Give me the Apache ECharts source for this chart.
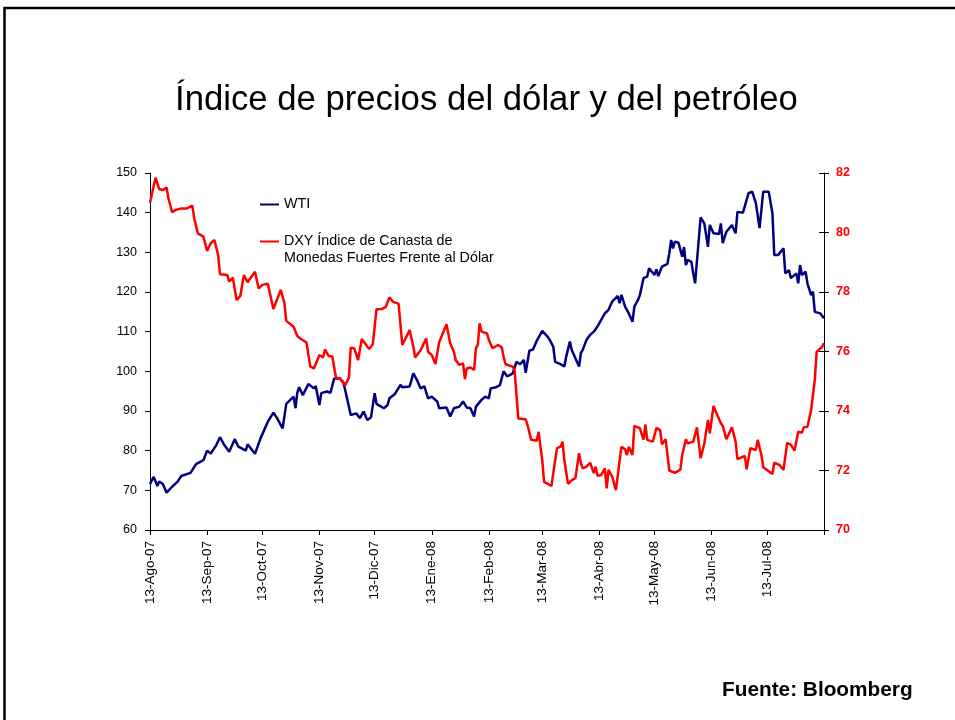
<!DOCTYPE html>
<html>
<head>
<meta charset="utf-8">
<title>Índice de precios del dólar y del petróleo</title>
<style>
  html, body { margin: 0; padding: 0; background: #fff; }
  #chart { width: 955px; height: 720px; }
</style>
</head>
<body>
<div id="chart"></div>
<script src="https://cdn.jsdelivr.net/npm/echarts@6.0.0/dist/echarts.min.js"></script>
<script>
// fechas de las marcas del eje X (día 13 de cada mes)
var tickDates = ['2007-08-13', '2007-09-13', '2007-10-13', '2007-11-13', '2007-12-13', '2008-01-13',
                 '2008-02-13', '2008-03-13', '2008-04-13', '2008-05-13', '2008-06-13', '2008-07-13'];
var tickLabels = ['13-Ago-07', '13-Sep-07', '13-Oct-07', '13-Nov-07', '13-Dic-07', '13-Ene-08',
                  '13-Feb-08', '13-Mar-08', '13-Abr-08', '13-May-08', '13-Jun-08', '13-Jul-08'];
var axisStart = '2007-08-13';
var axisEnd = '2008-08-13';

// WTI (US$ por barril), eje izquierdo
var wtiData = [
  ['2007-08-13',71.6],['2007-08-15',73.4],['2007-08-17',71.1],['2007-08-18',72.2],['2007-08-20',71.6],
  ['2007-08-22',69.4],['2007-08-25',70.9],['2007-08-28',72.2],['2007-08-30',73.6],['2007-09-04',74.4],
  ['2007-09-07',76.6],['2007-09-11',77.6],['2007-09-13',80.0],['2007-09-15',79.3],['2007-09-18',81.4],
  ['2007-09-20',83.4],['2007-09-22',81.7],['2007-09-25',79.7],['2007-09-28',82.9],['2007-09-30',81.0],
  ['2007-10-04',80.0],['2007-10-05',81.6],['2007-10-09',79.2],['2007-10-12',83.1],['2007-10-16',87.3],
  ['2007-10-19',89.6],['2007-10-21',88.2],['2007-10-24',85.6],['2007-10-26',91.8],['2007-10-30',93.6],
  ['2007-10-31',90.7],['2007-11-01',94.6],['2007-11-02',96.0],['2007-11-04',94.0],['2007-11-07',96.8],
  ['2007-11-10',95.7],['2007-11-11',96.3],['2007-11-13',91.5],['2007-11-14',94.5],['2007-11-17',94.9],
  ['2007-11-19',94.6],['2007-11-21',98.2],['2007-11-24',98.2],['2007-11-26',97.2],['2007-11-27',95.3],
  ['2007-11-29',91.1],['2007-11-30',89.0],['2007-12-03',89.4],['2007-12-05',88.2],['2007-12-07',89.9],
  ['2007-12-09',87.7],['2007-12-11',88.4],['2007-12-13',94.5],['2007-12-14',91.8],['2007-12-18',90.7],
  ['2007-12-20',91.5],['2007-12-21',93.2],['2007-12-24',94.3],['2007-12-27',96.6],['2007-12-28',96.0],
  ['2008-01-01',96.2],['2008-01-03',99.5],['2008-01-05',97.8],['2008-01-07',95.7],['2008-01-09',96.2],
  ['2008-01-11',93.2],['2008-01-13',93.6],['2008-01-16',92.4],['2008-01-17',90.7],['2008-01-21',90.9],
  ['2008-01-23',88.6],['2008-01-25',90.7],['2008-01-28',91.1],['2008-01-30',92.4],['2008-02-01',90.9],
  ['2008-02-03',90.7],['2008-02-05',88.6],['2008-02-06',91.1],['2008-02-09',92.8],['2008-02-11',93.6],
  ['2008-02-13',93.2],['2008-02-14',95.7],['2008-02-17',96.0],['2008-02-19',96.5],['2008-02-21',100.0],
  ['2008-02-23',98.7],['2008-02-26',99.5],['2008-02-28',102.4],['2008-03-01',101.8],['2008-03-03',102.9],
  ['2008-03-04',99.6],['2008-03-06',105.2],['2008-03-08',105.5],['2008-03-10',107.7],['2008-03-13',110.2],
  ['2008-03-14',110.3],['2008-03-16',108.7],['2008-03-17',108.0],['2008-03-19',106.2],['2008-03-20',102.4],
  ['2008-03-23',101.8],['2008-03-25',101.2],['2008-03-26',103.7],['2008-03-28',107.5],['2008-03-29',105.4],
  ['2008-04-02',101.2],['2008-04-03',104.7],['2008-04-04',105.4],['2008-04-06',107.9],['2008-04-08',109.2],
  ['2008-04-10',110.0],['2008-04-12',111.3],['2008-04-13',111.7],['2008-04-16',114.6],['2008-04-18',115.5],
  ['2008-04-20',117.6],['2008-04-21',118.0],['2008-04-23',119.0],['2008-04-24',117.2],['2008-04-25',119.3],
  ['2008-04-27',116.3],['2008-04-29',114.6],['2008-05-01',112.5],['2008-05-02',116.3],['2008-05-04',118.0],
  ['2008-05-05',119.2],['2008-05-07',123.5],['2008-05-09',123.9],['2008-05-10',126.0],['2008-05-11',125.4],
  ['2008-05-13',124.3],['2008-05-14',125.7],['2008-05-15',124.0],['2008-05-17',126.4],['2008-05-20',127.1],
  ['2008-05-21',129.8],['2008-05-22',133.1],['2008-05-23',131.0],['2008-05-24',132.7],['2008-05-26',132.4],
  ['2008-05-28',128.9],['2008-05-29',131.3],['2008-05-30',126.8],['2008-05-31',128.1],['2008-06-02',127.6],
  ['2008-06-03',124.7],['2008-06-04',122.2],['2008-06-07',138.8],['2008-06-09',137.3],['2008-06-11',131.4],
  ['2008-06-12',136.9],['2008-06-14',134.8],['2008-06-17',134.6],['2008-06-18',137.3],['2008-06-19',132.3],
  ['2008-06-21',135.2],['2008-06-24',136.9],['2008-06-26',134.8],['2008-06-27',140.2],['2008-06-30',140.0],
  ['2008-07-03',144.9],['2008-07-05',145.3],['2008-07-07',142.4],['2008-07-09',136.1],['2008-07-10',140.7],
  ['2008-07-11',145.3],['2008-07-14',145.3],['2008-07-16',139.8],['2008-07-17',129.3],['2008-07-19',129.3],
  ['2008-07-22',131.0],['2008-07-23',124.7],['2008-07-25',125.5],['2008-07-26',123.5],['2008-07-29',124.7],
  ['2008-07-30',122.2],['2008-07-31',126.8],['2008-08-01',124.3],['2008-08-03',125.1],['2008-08-04',122.2],
  ['2008-08-06',119.2],['2008-08-07',120.1],['2008-08-08',115.0],['2008-08-11',114.6],['2008-08-13',113.4]
];

// DXY, eje derecho
var dxyData = [
  ['2007-08-13',81.0],['2007-08-16',81.84],['2007-08-18',81.46],['2007-08-20',81.43],['2007-08-22',81.51],
  ['2007-08-23',81.15],['2007-08-25',80.68],['2007-08-27',80.76],['2007-08-30',80.81],['2007-09-02',80.81],
  ['2007-09-05',80.90],['2007-09-06',80.48],['2007-09-08',79.97],['2007-09-11',79.86],['2007-09-13',79.38],
  ['2007-09-15',79.64],['2007-09-17',79.75],['2007-09-19',79.24],['2007-09-20',78.60],['2007-09-24',78.57],
  ['2007-09-25',78.35],['2007-09-27',78.48],['2007-09-29',77.73],['2007-10-01',77.86],['2007-10-03',78.57],
  ['2007-10-05',78.33],['2007-10-09',78.68],['2007-10-11',78.12],['2007-10-13',78.24],['2007-10-16',78.28],
  ['2007-10-19',77.43],['2007-10-23',78.07],['2007-10-25',77.62],['2007-10-26',77.03],['2007-10-30',76.83],
  ['2007-11-01',76.52],['2007-11-03',76.42],['2007-11-06',76.30],['2007-11-08',75.50],['2007-11-10',75.43],
  ['2007-11-13',75.88],['2007-11-15',75.80],['2007-11-16',76.07],['2007-11-18',75.85],['2007-11-20',75.83],
  ['2007-11-22',75.12],['2007-11-24',75.10],['2007-11-27',74.87],['2007-11-29',75.12],['2007-11-30',76.13],
  ['2007-12-02',76.10],['2007-12-04',75.71],['2007-12-06',76.42],['2007-12-08',76.25],['2007-12-10',76.08],
  ['2007-12-12',76.25],['2007-12-14',77.42],['2007-12-17',77.43],['2007-12-19',77.49],['2007-12-21',77.82],
  ['2007-12-23',77.67],['2007-12-26',77.60],['2007-12-28',76.22],['2008-01-01',76.72],['2008-01-03',76.16],
  ['2008-01-04',75.80],['2008-01-07',76.05],['2008-01-08',76.18],['2008-01-10',76.44],['2008-01-11',75.99],
  ['2008-01-13',75.88],['2008-01-15',75.58],['2008-01-17',76.30],['2008-01-18',76.33],['2008-01-21',76.92],
  ['2008-01-23',76.28],['2008-01-25',75.99],['2008-01-26',75.71],['2008-01-28',75.55],['2008-01-30',75.60],
  ['2008-01-31',75.07],['2008-02-01',75.43],['2008-02-03',75.46],['2008-02-05',75.38],['2008-02-06',76.11],
  ['2008-02-07',76.22],['2008-02-08',76.95],['2008-02-09',76.67],['2008-02-12',76.61],['2008-02-13',76.39],
  ['2008-02-15',76.11],['2008-02-18',76.22],['2008-02-20',76.14],['2008-02-21',75.83],['2008-02-22',75.58],
  ['2008-02-24',75.53],['2008-02-26',75.49],['2008-02-27',75.35],['2008-02-29',73.75],['2008-03-04',73.72],
  ['2008-03-05',73.53],['2008-03-07',73.03],['2008-03-10',73.00],['2008-03-11',73.30],['2008-03-13',72.35],
  ['2008-03-14',71.62],['2008-03-18',71.48],['2008-03-19',71.91],['2008-03-21',72.75],['2008-03-23',72.80],
  ['2008-03-24',72.97],['2008-03-25',72.35],['2008-03-27',71.55],['2008-03-29',71.68],['2008-03-31',71.74],
  ['2008-04-02',72.58],['2008-04-03',72.24],['2008-04-04',72.07],['2008-04-06',72.13],['2008-04-08',72.26],
  ['2008-04-10',71.91],['2008-04-11',72.13],['2008-04-12',71.82],['2008-04-14',71.85],['2008-04-16',72.07],
  ['2008-04-17',71.40],['2008-04-18',72.02],['2008-04-20',71.79],['2008-04-22',71.34],['2008-04-25',72.80],
  ['2008-04-27',72.71],['2008-04-28',72.52],['2008-04-29',72.80],['2008-05-01',72.52],['2008-05-02',73.50],
  ['2008-05-05',73.42],['2008-05-07',73.04],['2008-05-08',73.55],['2008-05-09',73.03],['2008-05-12',72.97],
  ['2008-05-14',73.43],['2008-05-16',73.36],['2008-05-17',72.88],['2008-05-19',73.05],['2008-05-21',72.00],
  ['2008-05-24',71.92],['2008-05-27',72.03],['2008-05-28',72.52],['2008-05-30',73.05],['2008-05-31',72.91],
  ['2008-06-03',72.97],['2008-06-05',73.45],['2008-06-07',72.41],['2008-06-09',72.91],['2008-06-11',73.70],
  ['2008-06-12',73.25],['2008-06-14',74.17],['2008-06-16',73.87],['2008-06-18',73.59],['2008-06-19',73.50],
  ['2008-06-21',73.05],['2008-06-24',73.45],['2008-06-26',72.97],['2008-06-27',72.38],['2008-07-01',72.49],
  ['2008-07-02',72.04],['2008-07-04',72.75],['2008-07-07',72.69],['2008-07-08',73.03],['2008-07-10',72.52],
  ['2008-07-11',72.11],['2008-07-16',71.88],['2008-07-17',72.26],['2008-07-20',72.18],['2008-07-22',72.02],
  ['2008-07-24',72.93],['2008-07-26',72.86],['2008-07-28',72.67],['2008-07-30',73.30],['2008-08-01',73.27],
  ['2008-08-02',73.45],['2008-08-04',73.47],['2008-08-06',74.03],['2008-08-07',74.54],['2008-08-08',75.04],
  ['2008-08-09',75.99],['2008-08-12',76.16],['2008-08-13',76.28]
];

var wtiName = 'WTI';
var dxyName = 'DXY Índice de Canasta de\nMonedas Fuertes Frente al Dólar';

// fecha 'YYYY-MM-DD' -> timestamp local
function toTime(s) {
    var p = s.split('-');
    return new Date(+p[0], +p[1] - 1, +p[2]).getTime();
}
function toPoints(rows) {
    return rows.map(function (r) { return [toTime(r[0]), r[1]]; });
}
var tickTimes = tickDates.map(toTime);
var tickMarks = tickTimes.concat([toTime(axisEnd)]);

var font = '"Liberation Sans", Arial, sans-serif';
var chart = echarts.init(document.getElementById('chart'));

var option = {
    animation: false,
    backgroundColor: '#fff',
    textStyle: { fontFamily: font },
    title: [{
        text: 'Índice de precios del dólar y del petróleo',
        left: 175, top: 83, padding: 0,
        textStyle: { fontSize: 34.7, fontWeight: 'normal', color: '#000', fontFamily: font }
    }, {
        text: 'Fuente: Bloomberg',
        left: 722, top: 680, padding: 0,
        textStyle: { fontSize: 20.8, fontWeight: 'bold', color: '#000', fontFamily: font }
    }],
    graphic: [{
        type: 'rect', silent: true, z: -10,
        shape: { x: 4.5, y: 8, width: 1000, height: 800 },
        style: { fill: 'none', stroke: '#000', lineWidth: 2.5 }
    }],
    legend: {
        orient: 'vertical', left: 260, top: 196, padding: 0,
        icon: 'rect', itemWidth: 19, itemHeight: 2, itemGap: 3,
        textStyle: { fontSize: 14.3, color: '#000', lineHeight: 17, fontFamily: font },
        data: [wtiName, dxyName],
        // línea en blanco delante para que la raya quede a la altura del primer renglón
        formatter: function (name) {
            return name === dxyName ? ' \n' + name : name;
        }
    },
    grid: { left: 150, right: 131, top: 173, bottom: 190 },
    xAxis: {
        type: 'value',
        min: toTime(axisStart), max: toTime(axisEnd),
        splitLine: { show: false },
        axisLine: { lineStyle: { color: '#000', width: 1 } },
        axisTick: { customValues: tickMarks, length: 5, lineStyle: { color: '#000' } },
        axisLabel: {
            customValues: tickTimes, rotate: 90, margin: 11,
            fontSize: 13.5, color: '#000', fontFamily: font,
            formatter: function (v) {
                var i = tickTimes.indexOf(v);
                return i >= 0 ? tickLabels[i] : '';
            }
        }
    },
    yAxis: [{
        type: 'value', position: 'left', min: 60, max: 150, interval: 10,
        splitLine: { show: false },
        axisLine: { show: true, lineStyle: { color: '#000' } },
        axisTick: { show: true, length: 5, lineStyle: { color: '#000' } },
        axisLabel: { fontSize: 12.5, color: '#000', margin: 13, fontFamily: font }
    }, {
        type: 'value', position: 'right', min: 70, max: 82, interval: 2,
        splitLine: { show: false },
        axisLine: { show: true, lineStyle: { color: '#000' } },
        axisTick: { show: true, length: 5, lineStyle: { color: '#000' } },
        axisLabel: { fontSize: 12.5, color: '#ff0000', fontWeight: 'bold', margin: 12, fontFamily: font }
    }, {
        // parte interior de las marcas cruzadas del eje derecho
        type: 'value', position: 'right', min: 70, max: 82, interval: 2,
        splitLine: { show: false },
        axisLine: { show: false },
        axisTick: { show: true, inside: true, length: 5, lineStyle: { color: '#000' } },
        axisLabel: { show: false }
    }],
    series: [{
        name: wtiName, type: 'line', yAxisIndex: 0,
        data: toPoints(wtiData), showSymbol: false, symbol: 'none',
        lineStyle: { color: '#000080', width: 2.5 }, itemStyle: { color: '#000080' }
    }, {
        name: dxyName, type: 'line', yAxisIndex: 1,
        data: toPoints(dxyData), showSymbol: false, symbol: 'none',
        lineStyle: { color: '#ff0000', width: 2.5 }, itemStyle: { color: '#ff0000' }
    }]
};

chart.setOption(option);
</script>
</body>
</html>
